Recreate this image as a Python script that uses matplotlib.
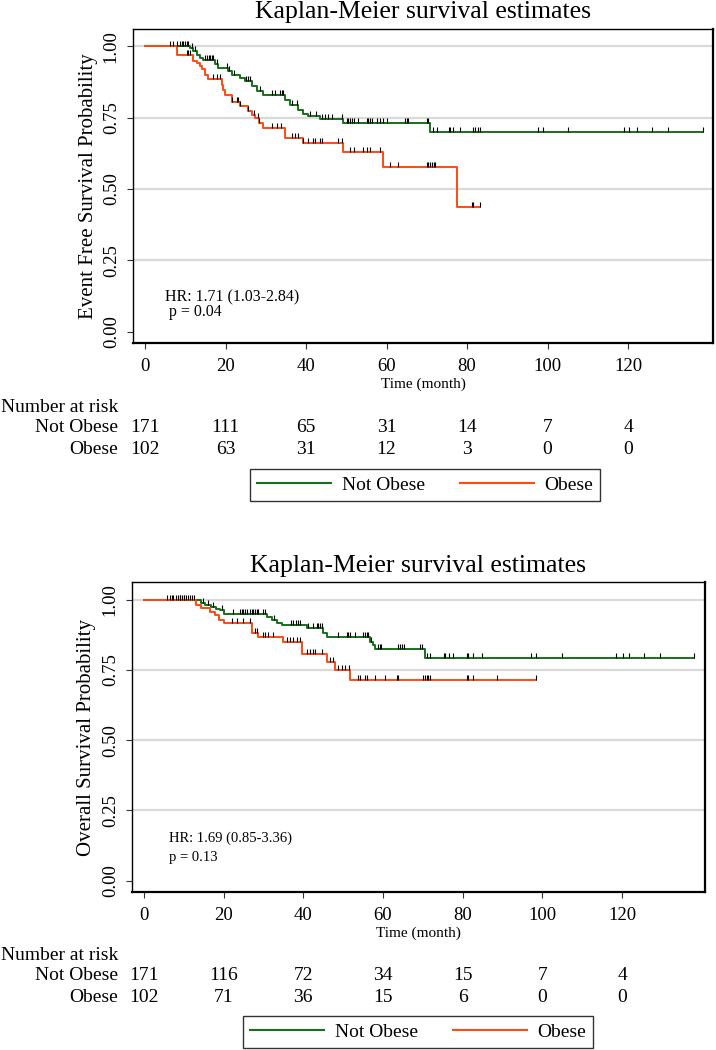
import numpy as np
import matplotlib
matplotlib.use('Agg')
import matplotlib.pyplot as plt
from matplotlib.transforms import blended_transform_factory

plt.rcParams['font.family'] = ['Liberation Serif', 'DejaVu Serif']

# ---- data ----
groups = ['Not Obese', 'Obese']
risk_times = [0, 20, 40, 60, 80, 100, 120]

# event free survival (top panel)
efs_notobese_t = [0, 11.2, 12.0, 12.8, 13.6, 14.5, 17.4, 18.2, 20.7, 21.5, 23.6, 24.8, 26.5, 27.7,
                  29.4, 34.8, 36.0, 38.1, 39.3, 40.6, 43.5, 49.3, 70.8]
efs_notobese_s = [1.0, 0.994, 0.982, 0.970, 0.960, 0.953, 0.938, 0.925, 0.912, 0.900, 0.890, 0.880, 0.860, 0.842,
                  0.828, 0.813, 0.795, 0.778, 0.763, 0.755, 0.746, 0.730, 0.699]
efs_notobese_end = 138.5
efs_notobese_cens = [6.2, 7.0, 7.9, 8.7, 9.1, 9.5, 9.9, 10.4, 10.8, 11.6, 12.4, 15.0, 15.4, 15.8, 16.2, 16.6,
                     17.0, 18.0, 20.3, 20.9, 22.0, 25.2, 25.6, 26.0, 28.5, 31.6, 32.4, 33.6, 34.0, 34.4,
                     36.4, 37.7, 41.0, 42.6, 43.9, 44.7, 45.5, 46.4, 48.9, 50.1, 50.5, 51.0, 51.4, 51.8,
                     53.0, 55.1, 55.5, 55.9, 56.3, 57.6, 58.4, 59.2, 60.0, 64.6, 65.0, 65.4, 70.0, 70.4,
                     71.6, 72.5, 75.4, 75.8, 76.6, 78.3, 81.6, 82.0, 82.8, 83.2, 97.6, 98.8, 105.2,
                     119.0, 120.3, 122.2, 125.9, 129.9, 138.5]

efs_obese_t = [0, 7.9, 12.0, 12.8, 13.7, 14.1, 14.9, 15.7, 19.1, 19.5, 19.9, 21.5, 23.6, 25.7, 26.5,
               27.3, 28.2, 29.4, 34.8, 39.3, 49.1, 59.2, 77.4]
efs_obese_s = [1.0, 0.971, 0.950, 0.940, 0.930, 0.920, 0.900, 0.885, 0.865, 0.848, 0.830, 0.805, 0.790, 0.775, 0.760,
               0.750, 0.731, 0.714, 0.679, 0.660, 0.631, 0.578, 0.436]
efs_obese_end = 83.1
efs_obese_cens = [10.4, 10.8, 11.2, 16.8, 17.8, 18.6, 21.5, 22.8, 23.2, 23.6, 25.7, 27.0, 28.0, 28.4,
                  31.5, 32.7, 33.9, 36.4, 37.3, 38.1, 39.3, 40.6, 41.8, 42.2, 43.5, 43.9, 48.0, 48.9,
                  50.9, 51.8, 54.2, 55.1, 55.9, 58.4, 60.9, 62.9, 70.0, 70.4, 70.8, 71.3, 71.7, 72.1,
                  81.2, 81.6, 83.1]

efs_risk_notobese = [171, 111, 65, 31, 14, 7, 4]
efs_risk_obese = [102, 63, 31, 12, 3, 0, 0]

# overall survival (bottom panel)
os_notobese_t = [0, 14.3, 15.3, 16.9, 18.0, 19.0, 20.1, 30.8, 32.1, 33.3, 34.6, 41.0, 45.0, 45.9,
                 56.8, 57.6, 58.0, 70.6]
os_notobese_s = [1.0, 0.987, 0.981, 0.975, 0.968, 0.962, 0.949, 0.940, 0.928, 0.918, 0.910, 0.900, 0.880, 0.868,
                 0.850, 0.840, 0.824, 0.791]
os_notobese_end = 138.1
os_notobese_cens = [5.7, 6.5, 7.3, 8.0, 8.7, 9.2, 9.7, 10.2, 10.7, 11.2, 11.7, 12.2, 14.8, 16.0, 17.4,
                    19.5, 22.5, 24.1, 24.6, 25.0, 25.4, 25.8, 26.7, 27.1, 27.5, 27.9, 28.3, 28.7, 30.0,
                    30.4, 32.6, 37.0, 37.5, 38.3, 38.8, 39.2, 41.3, 42.5, 43.4, 43.8, 44.2, 44.6, 48.8,
                    50.9, 51.3, 51.7, 53.0, 55.1, 55.5, 55.9, 56.3, 57.1, 58.8, 59.2, 59.6, 63.9, 64.3,
                    64.7, 65.2, 69.3, 69.7, 71.0, 71.8, 75.2, 75.6, 76.5, 77.7, 81.0, 81.4, 82.7, 84.8,
                    97.2, 98.4, 104.9, 118.5, 120.2, 121.8, 125.6, 129.4, 138.1]

os_obese_t = [0, 13.1, 14.3, 16.6, 17.8, 18.9, 20.1, 27.1, 28.7, 35.0, 39.6, 45.9, 48.0, 51.7]
os_obese_s = [1.0, 0.980, 0.970, 0.957, 0.945, 0.928, 0.916, 0.880, 0.868, 0.848, 0.806, 0.780, 0.750, 0.714]
os_obese_end = 98.3
os_obese_cens = [7.0, 9.0, 10.0, 12.5, 22.1, 23.3, 25.0, 26.7, 27.9, 28.3, 30.0, 30.4, 31.2, 32.5,
                 35.9, 36.7, 37.5, 38.4, 39.2, 40.9, 41.7, 42.5, 43.0, 44.6, 46.7, 47.4, 48.8, 49.7,
                 50.5, 51.6, 53.8, 54.2, 55.5, 55.9, 58.0, 60.5, 63.5, 63.9, 70.1, 70.6, 71.0, 71.4,
                 71.8, 81.0, 81.4, 82.7, 88.6, 98.3]

os_risk_notobese = [171, 116, 72, 34, 15, 7, 4]
os_risk_obese = [102, 71, 36, 15, 6, 0, 0]

green = '#17701a'
red = '#ff4a12'
W, H = 716, 1050

fig = plt.figure(figsize=(7.16, 10.5), dpi=100)


def fx(px):
    return px / W


def fy(py):
    return 1 - py / H


def km(ax, t, s, end, cens, color):
    tt = list(t) + [end]
    ss = list(s) + [s[-1]]
    line, = ax.step(tt, ss, where='post', color=color, lw=1.4, zorder=3)
    # survival at each censoring time
    idx = np.searchsorted(np.array(t), np.array(cens), side='right') - 1
    cy = np.array(s)[idx]
    ax.plot(cens, cy, ls='none', marker=[(0, 0), (0, 1)], ms=7, mew=0.8,
            color='black', zorder=4)
    return line


def panel(box, xlim, ylim, title, title_y, ylabel, ylab_x, curves, hr, hr_pos, hr_size,
          xlab_y, risk_rows, leg_center):
    left, right, top, bottom = box
    ax = fig.add_axes([fx(left), fy(bottom), fx(right - left), (bottom - top) / H])
    for g in [0.25, 0.5, 0.75, 1.0]:
        ax.axhline(g, color='#dadada', lw=1.6, zorder=0)
    lines = [km(ax, *c) for c in curves]
    ax.set_xlim(*xlim)
    ax.set_ylim(*ylim)
    ax.set_xticks(risk_times)
    ax.set_yticks([0, 0.25, 0.5, 0.75, 1.0])
    ax.set_yticklabels(['0.00', '0.25', '0.50', '0.75', '1.00'], rotation=90, va='center')
    ax.tick_params(axis='both', direction='out', length=4.5, width=0.8, color='#333333',
                   labelsize=13.5, pad=5)
    ax.tick_params(axis='x', pad=6)
    ax.tick_params(top=False, right=False)
    for sp in ax.spines.values():
        sp.set_linewidth(1.0)
        sp.set_color('black')
    ax.spines['bottom'].set_linewidth(1.6)
    ax.spines['right'].set_linewidth(1.6)

    fig.text(fx((left + right) / 2), fy(title_y), title, ha='center', va='baseline', fontsize=18.5)
    fig.text(fx(ylab_x), fy((top + bottom) / 2), ylabel, rotation=90, ha='center', va='center',
             fontsize=15)
    fig.text(fx((left + right) / 2), fy(xlab_y), 'Time (month)', ha='center', va='center',
             fontsize=11)
    (hx, hy1, hy2) = hr_pos
    fig.text(fx(hx), fy(hy1), hr[0], ha='left', va='center', fontsize=hr_size)
    fig.text(fx(hx), fy(hy2), hr[1], ha='left', va='center', fontsize=hr_size)

    # number at risk table
    trans = blended_transform_factory(ax.transData, fig.transFigure)
    (y_head, rows) = risk_rows
    fig.text(fx(1), fy(y_head), 'Number at risk', ha='left', va='center', fontsize=14)
    for (name, vals, ry) in rows:
        fig.text(fx(118), fy(ry), name, ha='right', va='center', fontsize=14)
        for t, v in zip(risk_times, vals):
            ax.text(t, fy(ry), str(v), transform=trans, ha='center', va='center', fontsize=14)

    leg = fig.legend(lines, groups, loc='center', bbox_to_anchor=leg_center, ncol=2,
                     frameon=True, fancybox=False, edgecolor='black', fontsize=14,
                     handlelength=3.8, handletextpad=0.55, columnspacing=1.8,
                     borderpad=0.35)
    leg.get_frame().set_linewidth(1.0)
    for l in leg.get_lines():
        l.set_linewidth(1.5)
    return ax


panel(box=(133, 713, 29, 343), xlim=(-2.98, 141.1), ylim=(-0.0396, 1.0606),
      title='Kaplan-Meier survival estimates', title_y=18,
      ylabel='Event Free Survival Probability', ylab_x=89,
      curves=[(efs_notobese_t, efs_notobese_s, efs_notobese_end, efs_notobese_cens, green),
              (efs_obese_t, efs_obese_s, efs_obese_end, efs_obese_cens, red)],
      hr=['HR: 1.71 (1.03-2.84)', ' p = 0.04'], hr_pos=(165, 297, 312), hr_size=11.5,
      xlab_y=384,
      risk_rows=(407, [(groups[0], efs_risk_notobese, 427), (groups[1], efs_risk_obese, 450)]),
      leg_center=(fx(425), fy(485)))

panel(box=(132, 705, 582, 892), xlim=(-2.96, 140.8), ylim=(-0.040, 1.063),
      title='Kaplan-Meier survival estimates', title_y=572,
      ylabel='Overall Survival Probability', ylab_x=87,
      curves=[(os_notobese_t, os_notobese_s, os_notobese_end, os_notobese_cens, green),
              (os_obese_t, os_obese_s, os_obese_end, os_obese_cens, red)],
      hr=['HR: 1.69 (0.85-3.36)', 'p = 0.13'], hr_pos=(169, 838, 858), hr_size=10.5,
      xlab_y=933,
      risk_rows=(956, [(groups[0], os_risk_notobese, 976), (groups[1], os_risk_obese, 997)]),
      leg_center=(fx(418), fy(1032)))

fig.savefig('out.png', dpi=100)
